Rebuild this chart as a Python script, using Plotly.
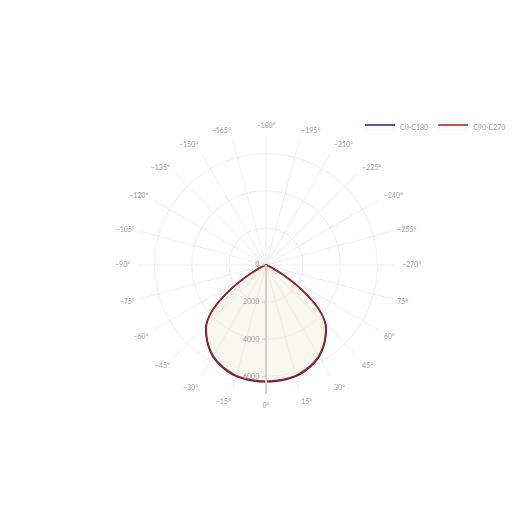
import plotly.graph_objects as go

# Luminous intensity (cd) against gamma angle
gamma = [0, 5, 10, 15, 20, 25, 30, 35, 40, 45, 50, 55, 60, 65, 70, 75, 80, 85, 90,
         95, 100, 110, 120, 130, 140, 150, 160, 170, 180]
c0_c180 = [6290, 6285, 6260, 6210, 6090, 5930, 5710, 5400, 5010, 4560, 3740, 2420, 1100, 350, 120, 40, 15, 5, 0,
           0, 0, 0, 0, 0, 0, 0, 0, 0, 0]
c90_c270 = [6250, 6245, 6220, 6170, 6050, 5890, 5670, 5365, 4975, 4530, 3720, 2405, 1090, 345, 120, 40, 15, 5, 0,
            0, 0, 0, 0, 0, 0, 0, 0, 0, 0]

tick_angles = [0, -15, -30, -45, -60, -75, -90, -105, -120, -135, -150, -165, -180,
               -195, -210, -225, -240, -255, -270, 75, 60, 45, 30, 15]
tick_labels = [("\u2212" + str(-a) if a < 0 else str(a)) + "\u00b0" for a in tick_angles]


def full_curve(vals):
    # C-plane on one side, the opposite plane mirrored on the other
    theta = [-g for g in gamma[::-1]] + gamma[1:]
    r = vals[::-1] + vals[1:]
    return theta, r


fig = go.Figure()
names = ['C0-C180', 'C90-C270']
colors = ['#23237e', '#a51f1f']
for name, vals, col in zip(names, [c0_c180, c90_c270], colors):
    th, r = full_curve(vals)
    fig.add_trace(go.Scatterpolar(
        r=r, theta=th, name=name, mode='lines',
        line=dict(color=col, width=1.6, shape='spline', smoothing=0.8),
        fill='toself', fillcolor='rgba(240,236,215,0.22)'))

fig.update_layout(
    width=530, height=530,
    paper_bgcolor='white',
    font=dict(family='Lato, Open Sans, sans-serif', size=7, color='#9a9a9a'),
    margin=dict(l=73, r=87, t=128, b=144, autoexpand=False),
    legend=dict(orientation='h', x=1.162, xanchor='right', y=1.035, yanchor='middle',
                font=dict(size=7, color='#9a9a9a'), bgcolor='rgba(0,0,0,0)'),
    polar=dict(
        bgcolor='white',
        angularaxis=dict(rotation=270, direction='counterclockwise',
                         tickmode='array', tickvals=[a % 360 for a in tick_angles], ticktext=tick_labels,
                         showline=False, ticks='outside', ticklen=5, tickcolor='rgba(0,0,0,0)',
                         gridcolor='#eeeeee', tickfont=dict(size=7, color='#9a9a9a')),
        radialaxis=dict(range=[0, 6950], angle=270, tickangle=-90,
                        tickmode='array', tickvals=[0, 2000, 4000, 6000],
                        showline=True, linecolor='#d2d2ca', linewidth=2,
                        ticks='outside', ticklen=3, tickcolor='#d2d2ca',
                        gridcolor='#eeeeee', tickfont=dict(size=7, color='#9a9a9a')),
    ),
)

fig.write_html("out.html")
